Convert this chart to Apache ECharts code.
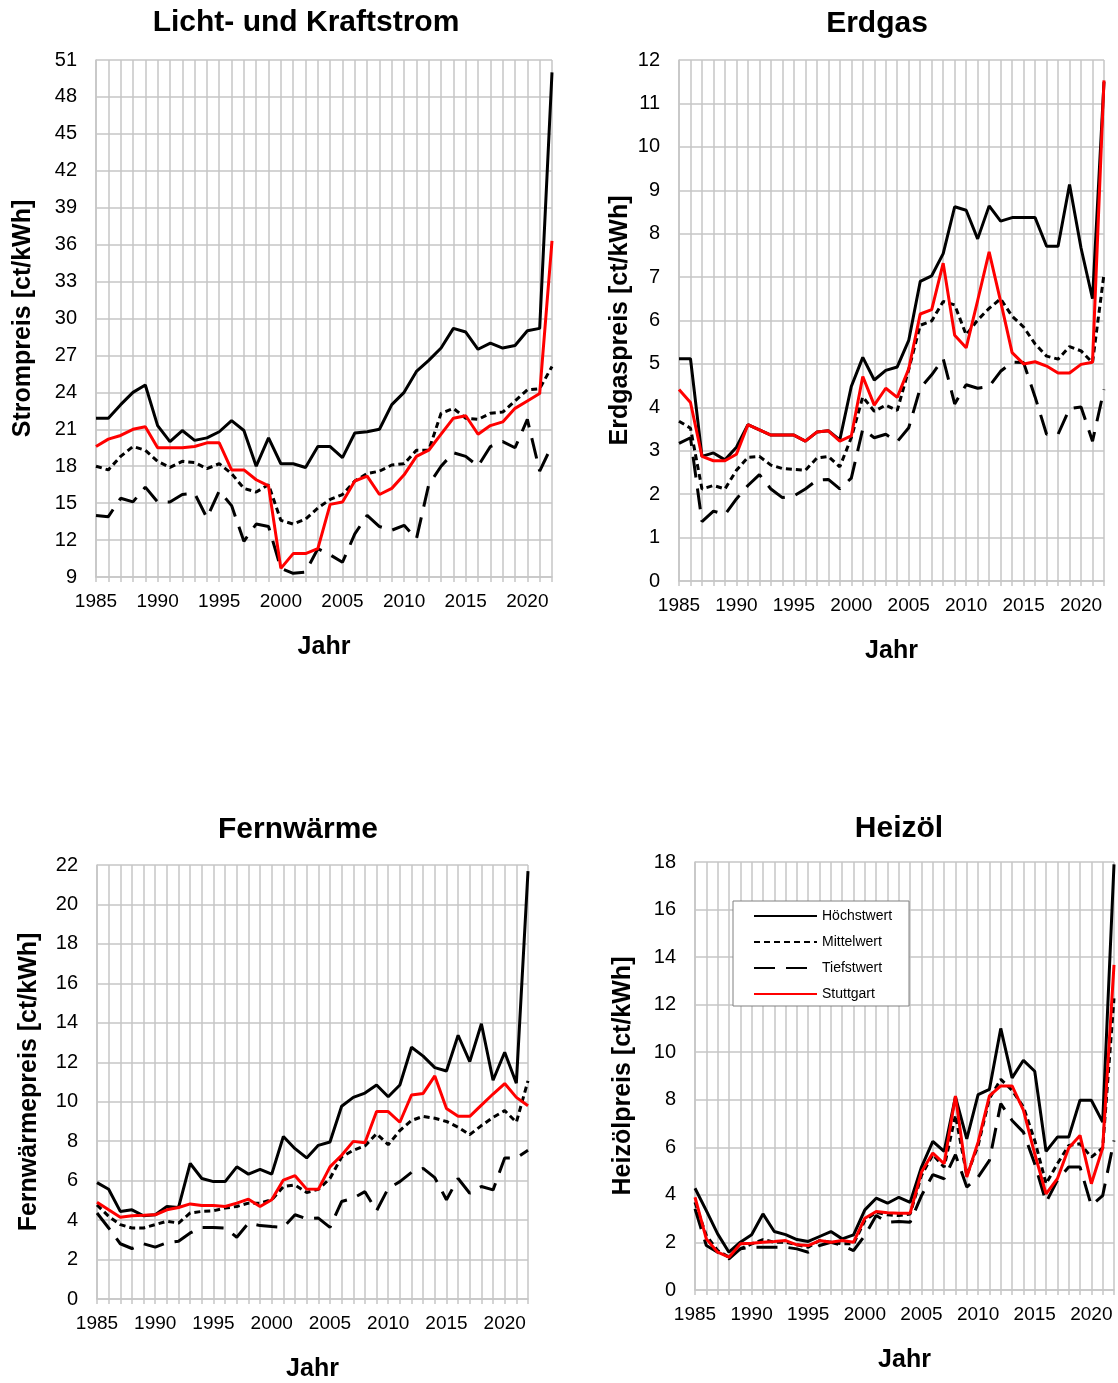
<!DOCTYPE html>
<html>
<head>
<meta charset="utf-8">
<script src="https://cdn.jsdelivr.net/npm/echarts@6/dist/echarts.min.js"></script>
<style>
  html, body { margin: 0; padding: 0; background: #fff; }
  #chart { width: 1118px; height: 1383px; }
</style>
</head>
<body>
<div id="chart"></div>
<script>
// Jahre 1985 - 2022
var years = [];
for (var y = 1985; y <= 2022; y++) years.push(String(y));

var seriesNames = ['Höchstwert', 'Mittelwert', 'Tiefstwert', 'Stuttgart'];

// Licht- und Kraftstrom
var stromHoch = [21.9, 21.9, 23.0, 24.0, 24.6, 21.3, 20.0, 20.9, 20.1, 20.3,
  20.8, 21.7, 20.9, 18.0, 20.3, 18.2, 18.2, 17.9, 19.6, 19.6,
  18.7, 20.7, 20.8, 21.0, 23.0, 24.0, 25.7, 26.6, 27.6, 29.2,
  28.9, 27.5, 28.0, 27.6, 27.8, 29.0, 29.2, 50.0];
var stromMittel = [18.0, 17.7, 18.8, 19.6, 19.3, 18.4, 17.9, 18.4, 18.3, 17.8,
  18.2, 17.4, 16.2, 15.9, 16.5, 13.6, 13.3, 13.7, 14.6, 15.3,
  15.7, 16.8, 17.4, 17.6, 18.1, 18.2, 19.3, 19.3, 22.3, 22.7,
  21.9, 21.8, 22.3, 22.4, 23.3, 24.2, 24.3, 26.1];
var stromTief = [14.0, 13.9, 15.4, 15.1, 16.3, 15.1, 15.1, 15.7, 15.8, 13.8,
  16.0, 14.8, 11.9, 13.3, 13.1, 9.7, 9.3, 9.4, 11.3, 10.8,
  10.2, 12.5, 14.0, 13.1, 12.8, 13.2, 12.1, 16.5, 18.0, 19.1,
  18.8, 18.0, 19.6, 20.0, 19.5, 21.8, 17.6, 19.7];
var stromStgt = [19.6, 20.2, 20.5, 21.0, 21.2, 19.5, 19.5, 19.5, 19.6, 19.9,
  19.9, 17.7, 17.7, 16.9, 16.4, 9.7, 10.9, 10.9, 11.3, 14.9,
  15.1, 16.8, 17.2, 15.7, 16.2, 17.3, 18.8, 19.3, 20.6, 21.9,
  22.1, 20.6, 21.3, 21.6, 22.7, 23.3, 23.9, 36.3];

// Erdgas
var gasHoch = [5.12, 5.12, 2.87, 2.95, 2.79, 3.08, 3.60, 3.48, 3.36, 3.36,
  3.36, 3.22, 3.43, 3.46, 3.25, 4.48, 5.15, 4.63, 4.85, 4.93,
  5.54, 6.90, 7.03, 7.54, 8.62, 8.54, 7.88, 8.64, 8.29, 8.37,
  8.37, 8.37, 7.71, 7.71, 9.13, 7.67, 6.50, 11.5];
var gasMittel = [3.68, 3.52, 2.12, 2.20, 2.12, 2.55, 2.85, 2.87, 2.67, 2.59,
  2.57, 2.55, 2.83, 2.87, 2.63, 3.30, 4.24, 3.91, 4.05, 3.93,
  4.87, 5.89, 5.99, 6.44, 6.36, 5.67, 6.01, 6.28, 6.50, 6.10,
  5.85, 5.46, 5.18, 5.11, 5.40, 5.30, 5.03, 7.07];
var gasTief = [3.17, 3.30, 1.37, 1.61, 1.53, 1.89, 2.20, 2.45, 2.12, 1.92,
  1.96, 2.12, 2.32, 2.34, 2.12, 2.37, 3.50, 3.30, 3.38, 3.21,
  3.53, 4.44, 4.75, 5.12, 4.08, 4.52, 4.44, 4.48, 4.83, 5.04,
  5.03, 4.24, 3.38, 3.38, 3.97, 4.01, 3.22, 4.41];
var gasStgt = [4.41, 4.11, 2.87, 2.77, 2.77, 2.92, 3.60, 3.48, 3.36, 3.36,
  3.36, 3.22, 3.43, 3.46, 3.22, 3.34, 4.71, 4.05, 4.44, 4.23,
  4.89, 6.15, 6.25, 7.32, 5.66, 5.37, 6.46, 7.58, 6.44, 5.26,
  5.00, 5.05, 4.95, 4.79, 4.79, 4.99, 5.04, 11.53];

// Fernwärme
var fwHoch = [5.90, 5.56, 4.44, 4.52, 4.22, 4.27, 4.69, 4.64, 6.87, 6.11,
  5.95, 5.95, 6.70, 6.33, 6.57, 6.33, 8.24, 7.62, 7.15, 7.79,
  7.96, 9.77, 10.22, 10.44, 10.85, 10.25, 10.85, 12.76, 12.31, 11.73,
  11.56, 13.37, 12.03, 13.95, 11.09, 12.51, 10.94, 21.69];
var fwMittel = [4.77, 4.19, 3.77, 3.60, 3.60, 3.77, 3.94, 3.85, 4.36, 4.44,
  4.47, 4.61, 4.69, 4.86, 4.86, 5.03, 5.70, 5.78, 5.40, 5.56,
  6.11, 7.20, 7.54, 7.76, 8.38, 7.82, 8.54, 9.05, 9.26, 9.16,
  9.00, 8.71, 8.33, 8.79, 9.21, 9.55, 8.96, 11.06];
var fwTief = [4.36, 3.60, 2.80, 2.56, 2.80, 2.63, 2.85, 2.93, 3.35, 3.63,
  3.63, 3.60, 3.13, 3.85, 3.72, 3.67, 3.63, 4.27, 4.07, 4.10,
  3.63, 4.94, 5.11, 5.44, 4.47, 5.61, 5.95, 6.42, 6.62, 6.15,
  5.03, 6.11, 5.36, 5.70, 5.53, 7.15, 7.15, 7.54];
var fwStgt = [4.91, 4.52, 4.14, 4.22, 4.24, 4.27, 4.52, 4.64, 4.82, 4.74,
  4.74, 4.69, 4.86, 5.06, 4.69, 5.03, 6.03, 6.25, 5.57, 5.56,
  6.70, 7.29, 7.99, 7.92, 9.50, 9.50, 8.96, 10.34, 10.42, 11.31,
  9.66, 9.26, 9.26, 9.83, 10.39, 10.92, 10.22, 9.80];

// Heizöl
var oelHoch = [4.28, 3.34, 2.36, 1.59, 2.01, 2.32, 3.20, 2.46, 2.33, 2.12,
  2.04, 2.25, 2.46, 2.15, 2.32, 3.37, 3.86, 3.65, 3.90, 3.69,
  5.17, 6.25, 5.83, 8.12, 6.36, 8.22, 8.44, 11.0, 8.92, 9.66,
  9.20, 5.83, 6.43, 6.43, 7.98, 7.98, 7.06, 17.9];
var oelMittel = [3.69, 2.29, 1.66, 1.38, 1.73, 1.94, 2.12, 2.01, 2.01, 1.90,
  1.80, 2.08, 2.01, 1.94, 1.94, 2.92, 3.27, 3.16, 3.13, 3.20,
  4.82, 5.69, 5.17, 7.35, 4.82, 6.08, 8.05, 8.86, 8.40, 7.70,
  6.29, 4.47, 5.31, 6.08, 6.15, 5.59, 5.97, 12.26];
var oelTief = [3.41, 1.87, 1.59, 1.31, 1.73, 1.80, 1.80, 1.80, 1.80, 1.73,
  1.59, 1.87, 2.01, 1.87, 1.66, 2.29, 3.13, 2.85, 2.88, 2.85,
  3.97, 4.85, 4.68, 5.69, 4.33, 4.75, 5.45, 7.84, 7.13, 6.64,
  5.31, 3.69, 4.61, 5.17, 5.17, 3.55, 3.97, 6.29];
var oelStgt = [3.90, 2.15, 1.59, 1.38, 1.94, 1.97, 2.01, 2.04, 2.08, 1.90,
  1.87, 2.08, 2.01, 2.08, 2.01, 3.02, 3.30, 3.25, 3.23, 3.23,
  4.96, 5.76, 5.31, 8.16, 4.75, 6.22, 8.16, 8.58, 8.58, 7.56,
  5.73, 4.04, 4.68, 5.97, 6.50, 4.47, 5.97, 13.67];

var FONT = "'Liberation Sans', Arial, sans-serif";
var GRID_COLOR = '#c6c6c6';

var panels = [
  { title: 'Licht- und Kraftstrom', tx: 306, ty: 8,
    grid: { left: 96, right: 566, top: 60, bottom: 806 },
    min: 9, max: 51, interval: 3, yName: 'Strompreis [ct/kWh]', yGap: 60,
    data: [stromHoch, stromMittel, stromTief, stromStgt] },
  { title: 'Erdgas', tx: 877, ty: 9,
    grid: { left: 679, right: 14, top: 60, bottom: 802 },
    min: 0, max: 12, interval: 1, yName: 'Erdgaspreis [ct/kWh]', yGap: 46,
    data: [gasHoch, gasMittel, gasTief, gasStgt] },
  { title: 'Fernwärme', tx: 298, ty: 815,
    grid: { left: 97, right: 590, top: 865, bottom: 81 },
    min: 0, max: 22, interval: 2, yName: 'Fernwärmepreis [ct/kWh]', yGap: 55,
    data: [fwHoch, fwMittel, fwTief, fwStgt] },
  { title: 'Heizöl', tx: 899, ty: 814,
    grid: { left: 695, right: 4, top: 862, bottom: 93 },
    min: 0, max: 18, interval: 2, yName: 'Heizölpreis [ct/kWh]', yGap: 59,
    data: [oelHoch, oelMittel, oelTief, oelStgt] }
];

var lineStyles = [
  { color: '#000000', width: 3, type: 'solid' },
  { color: '#000000', width: 3, type: [6, 4] },
  { color: '#000000', width: 3, type: [21, 11] },
  { color: '#ff0000', width: 3, type: 'solid' }
];

var option = {
  backgroundColor: '#ffffff',
  animation: false,
  textStyle: { fontFamily: FONT, color: '#000' },
  title: [],
  grid: [],
  xAxis: [],
  yAxis: [],
  series: [],
  legend: {
    data: seriesNames,
    orient: 'vertical',
    left: 733,
    top: 901,
    padding: [8, 17, 5, 20],
    itemWidth: 63,
    itemHeight: 14,
    itemGap: 12,
    backgroundColor: '#ffffff',
    borderColor: '#808080',
    borderWidth: 1,
    selectedMode: false,
    itemStyle: { opacity: 0, color: 'transparent', borderWidth: 0 },
    textStyle: { fontFamily: FONT, fontSize: 14, color: '#000' }
  }
};

panels.forEach(function (p, i) {
  option.title.push({
    text: p.title,
    left: p.tx,
    top: p.ty,
    textAlign: 'center',
    padding: 0,
    textStyle: { fontFamily: FONT, fontSize: 30, fontWeight: 'bold', color: '#000' }
  });
  option.grid.push(p.grid);
  option.xAxis.push({
    gridIndex: i,
    type: 'category',
    data: years,
    boundaryGap: false,
    name: 'Jahr',
    nameLocation: 'middle',
    nameGap: 58,
    nameTextStyle: { fontFamily: FONT, fontSize: 25, fontWeight: 'bold', color: '#000' },
    axisLine: { lineStyle: { color: GRID_COLOR, width: 1.5 } },
    axisTick: { show: true, interval: 0, length: 5, lineStyle: { color: GRID_COLOR, width: 1.5 } },
    axisLabel: { interval: 4, margin: 15, fontFamily: FONT, fontSize: 19, color: '#000' },
    splitLine: { show: true, interval: 0, lineStyle: { color: GRID_COLOR, width: 1.5 } }
  });
  option.yAxis.push({
    gridIndex: i,
    type: 'value',
    min: p.min,
    max: p.max,
    interval: p.interval,
    name: p.yName,
    nameLocation: 'middle',
    nameGap: p.yGap,
    nameRotate: 90,
    nameTextStyle: { fontFamily: FONT, fontSize: 25, fontWeight: 'bold', color: '#000' },
    axisLine: { show: true, lineStyle: { color: GRID_COLOR, width: 1.5 } },
    axisTick: { show: false },
    axisLabel: { margin: 19, fontFamily: FONT, fontSize: 20, color: '#000' },
    splitLine: { show: true, lineStyle: { color: GRID_COLOR, width: 1.5 } }
  });
  p.data.forEach(function (vals, k) {
    option.series.push({
      name: seriesNames[k],
      type: 'line',
      xAxisIndex: i,
      yAxisIndex: i,
      data: vals,
      symbol: 'none',
      showSymbol: false,
      z: 2 + k,
      lineStyle: lineStyles[k]
    });
  });
});

var chart = echarts.init(document.getElementById('chart'), null, { renderer: 'canvas' });
chart.setOption(option);
</script>
</body>
</html>
